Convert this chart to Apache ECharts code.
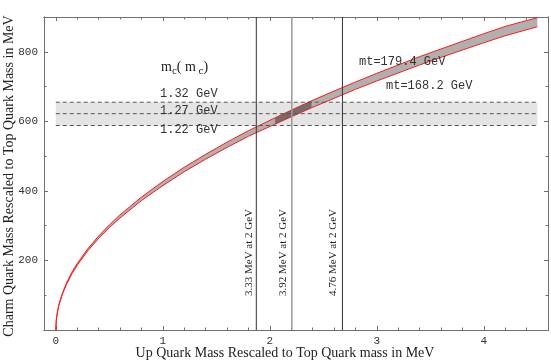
<!DOCTYPE html>
<html>
<head>
<meta charset="utf-8">
<script src="https://cdn.jsdelivr.net/npm/echarts@6/dist/echarts.min.js"></script>
<style>html,body{margin:0;padding:0;background:#fff}#c{width:551px;height:363px}</style>
</head>
<body>
<div id="c"></div>
<script>
// ---- data ----
const xVals      = [0, 0.005, 0.015, 0.03, 0.06, 0.1, 0.15, 0.2, 0.3, 0.4, 0.5, 0.6, 0.8, 1.0, 1.2, 1.4, 1.6, 1.8, 2.05, 2.2, 2.39, 2.6, 2.8, 3.0, 3.2, 3.4, 3.6, 3.8, 4.0, 4.2, 4.5];
const lowerVals  = [0, 28, 50, 72, 101, 131, 161, 186, 228, 263, 294, 322, 372, 415, 455, 491, 525, 557, 592, 613, 639, 666, 692, 716, 739, 762, 784, 805, 826, 846, 872]; // mt=168.2 GeV
const upperVals  = [0, 29, 52, 74, 104, 135, 166, 191, 234, 270, 302, 331, 382, 427, 468, 505, 540, 573, 610, 632, 659, 687, 713, 738, 762, 786, 808, 830, 852, 873, 898]; // mt=179.4 GeV
const darkRange  = [2.05, 2.39];
const mcValues   = [588, 622, 655];
const mcLabels   = ['1.22 GeV', '1.27 GeV', '1.32 GeV'];
const mcXRange   = [0, 4.5];
const muValues   = [1.874, 2.206, 2.679];
const muLabels   = ['3.33 MeV at 2 GeV', '3.92 MeV at 2 GeV', '4.76 MeV at 2 GeV'];
const muColors   = ['#333333', '#9a9a9a', '#333333'];
const xMajor     = [0, 1, 2, 3, 4];
const xMinor     = [0.2, 0.4, 0.6, 0.8, 1.2, 1.4, 1.6, 1.8, 2.2, 2.4, 2.6, 2.8, 3.2, 3.4, 3.6, 3.8, 4.2, 4.4];
const yMajor     = [200, 400, 600, 800];
const yMinor     = [100, 300, 500, 700];

const chart = echarts.init(document.getElementById('c'), null, {renderer: 'canvas'});

const FRAME = '#707070';
const monoFont = 'Liberation Mono';
const serif = 'Liberation Serif';

function xAx(pos, vals, len, labels) {
  return {
    type: 'value', position: pos, min: -0.11, max: 4.6,
    axisLine: {show: true, onZero: false, lineStyle: {color: FRAME, width: 1}},
    axisTick: {show: true, inside: true, length: len, customValues: vals, lineStyle: {color: FRAME}},
    axisLabel: {show: labels, customValues: vals, margin: 6, fontFamily: monoFont, fontSize: 11, color: '#333'},
    splitLine: {show: false}
  };
}
function yAx(pos, vals, len, labels) {
  return {
    type: 'value', position: pos, min: 0, max: 900,
    axisLine: {show: true, onZero: false, lineStyle: {color: FRAME, width: 1}},
    axisTick: {show: true, inside: true, length: len, customValues: vals, lineStyle: {color: FRAME}},
    axisLabel: {show: labels, customValues: vals, margin: 6, fontFamily: monoFont, fontSize: 11, color: '#333'},
    splitLine: {show: false}
  };
}

const upperPts = xVals.map((x, i) => [x, upperVals[i]]);
const lowerPts = xVals.map((x, i) => [x, lowerVals[i]]);

function bandRender(params, api, x0, x1, color) {
  const pts = [];
  for (let i = 0; i < xVals.length; i++) {
    if (xVals[i] >= x0 && xVals[i] <= x1) pts.push(api.coord([xVals[i], upperVals[i]]));
  }
  for (let i = xVals.length - 1; i >= 0; i--) {
    if (xVals[i] >= x0 && xVals[i] <= x1) pts.push(api.coord([xVals[i], lowerVals[i]]));
  }
  return {type: 'polygon', shape: {points: pts}, style: {fill: color, stroke: null}};
}

const series = [];
// light horizontal band
series.push({
  type: 'line', data: [], silent: true, z: 1,
  markArea: {silent: true, itemStyle: {color: '#e4e4e4'},
    data: [[{coord: [mcXRange[0], mcValues[0]]}, {coord: [mcXRange[1], mcValues[2]]}]]}
});
// gray band between curves
series.push({
  type: 'custom', z: 2, silent: true, data: [[1, 1]],
  renderItem: (p, api) => bandRender(p, api, -1, 10, '#b0b0b0')
});
// dark region
series.push({
  type: 'custom', z: 3, silent: true, data: [[1, 1]],
  renderItem: (p, api) => bandRender(p, api, darkRange[0], darkRange[1], '#6e6e6e')
});
// red boundary curves
series.push({name: 'mt=179.4 GeV', type: 'line', data: upperPts, symbol: 'none', z: 4,
  lineStyle: {color: '#ff1a1a', width: 1}});
series.push({name: 'mt=168.2 GeV', type: 'line', data: lowerPts, symbol: 'none', z: 4,
  lineStyle: {color: '#ff1a1a', width: 1}});
// dashed horizontal lines
mcValues.forEach(v => {
  series.push({type: 'line', data: [[mcXRange[0], v], [mcXRange[1], v]], symbol: 'none', z: 5, silent: true,
    lineStyle: {color: '#555', width: 1, type: [4, 3]}});
});
// vertical lines
muValues.forEach((v, i) => {
  series.push({type: 'line', data: [[v, 0], [v, 900]], symbol: 'none', z: 6, silent: true,
    lineStyle: {color: muColors[i], width: i === 1 ? 1.5 : 1}});
});

const gridRect = {left: 44, top: 17, right: 3, bottom: 33};

const graphics = [
  {type: 'text', left: 161, top: 60, z: 10, style: {
    text: '{m|m}{s|c}{m|( m}{s| c}{m|)}',
    rich: {m: {fontFamily: serif, fontSize: 14, fill: '#222'}, s: {fontFamily: serif, fontSize: 11, fill: '#222', padding: [9, 0, 0, 0]}}
  }},
  {type: 'text', left: 160, top: 88, z: 10, style: {text: mcLabels[2], font: '12px "' + monoFont + '"', fill: '#333'}},
  {type: 'text', left: 160, top: 105, z: 10, style: {text: mcLabels[1], font: '12px "' + monoFont + '"', fill: '#333'}},
  {type: 'text', left: 160, top: 124, z: 10, style: {text: mcLabels[0], font: '12px "' + monoFont + '"', fill: '#333'}},
  {type: 'text', left: 359, top: 56, z: 10, style: {text: 'mt=179.4 GeV', font: '12px "' + monoFont + '"', fill: '#333'}},
  {type: 'text', left: 386, top: 80, z: 10, style: {text: 'mt=168.2 GeV', font: '12px "' + monoFont + '"', fill: '#333'}},
  {type: 'text', x: 9, y: 176, rotation: Math.PI / 2, z: 10, style: {
    text: 'Charm Quark Mass Rescaled to Top Quark Mass in MeV', font: '14px "' + serif + '"', fill: '#222',
    align: 'center', verticalAlign: 'middle'}},
  {type: 'text', x: 285, y: 353, z: 10, style: {
    text: 'Up Quark Mass Rescaled to Top Quark mass in MeV', font: '14px "' + serif + '"', fill: '#222',
    align: 'center', verticalAlign: 'middle'}}
];
const muLabelX = [249.3, 283.5, 333.5];
muLabels.forEach((t, i) => {
  graphics.push({type: 'text', x: muLabelX[i], y: 252.5, rotation: Math.PI / 2, z: 10, style: {
    text: t, font: '11px "' + serif + '"', fill: '#222', align: 'center', verticalAlign: 'middle'}});
});

chart.setOption({
  animation: false,
  backgroundColor: '#fff',
  grid: Object.assign({containLabel: false}, gridRect),
  xAxis: [
    xAx('bottom', xMajor, 4, true),
    xAx('bottom', xMinor, 2.5, false),
    xAx('top', xMajor, 4, false),
    xAx('top', xMinor, 2.5, false)
  ],
  yAxis: [
    yAx('left', yMajor, 4, true),
    yAx('left', yMinor, 2.5, false),
    yAx('right', yMajor, 4, false),
    yAx('right', yMinor, 2.5, false)
  ],
  series: series,
  graphic: graphics
});
</script>
</body>
</html>
